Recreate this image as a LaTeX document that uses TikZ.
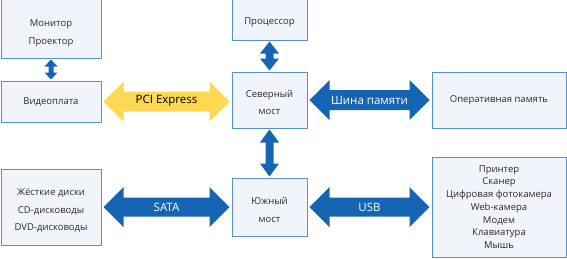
\documentclass[tikz,border=0pt]{standalone}
\usepackage{fontspec}
\setmainfont{Open Sans}
\usetikzlibrary{calc}
\definecolor{boxfill}{HTML}{F1F5FB}
\definecolor{boxline}{HTML}{5592CF}
\definecolor{arrblue}{HTML}{1565B4}
\definecolor{arryel}{HTML}{FDD853}
\definecolor{txt}{HTML}{2B2B2B}
\newcommand\lowered[2]{\raisebox{-#1}[\height][\depth]{\begin{tabular}{@{}c@{}}#2\end{tabular}}}
\newcommand\harrow[6]{%
  \fill[#6] let \p1=(#1), \p2=(#2) in
   (\x1+2pt,\y1) -- (\x1+2pt+#5,\y1+#4) -- (\x1+2pt+#5,\y1+#3) -- (\x2-2pt-#5,\y1+#3) -- (\x2-2pt-#5,\y1+#4) -- (\x2-2pt,\y1)
   -- (\x2-2pt-#5,\y1-#4) -- (\x2-2pt-#5,\y1-#3) -- (\x1+2pt+#5,\y1-#3) -- (\x1+2pt+#5,\y1-#4) -- cycle;}
\newcommand\varrow[6]{%
  \fill[#6] let \p1=(#1), \p2=(#2) in
   (\x1,\y1-1pt) -- (\x1+#4,\y1-1pt-#5) -- (\x1+#3,\y1-1pt-#5) -- (\x1+#3,\y2+1pt+#5) -- (\x1+#4,\y2+1pt+#5) -- (\x1,\y2+1pt)
   -- (\x1-#4,\y2+1pt+#5) -- (\x1-#3,\y2+1pt+#5) -- (\x1-#3,\y1-1pt-#5) -- (\x1-#4,\y1-1pt-#5) -- cycle;}
\begin{document}
\begin{tikzpicture}[x=1pt,y=-1pt,
  box/.style={draw=boxline, fill=boxfill, line width=1pt, align=center, text=txt,
    font=\fontsize{9.5}{17.5}\selectfont, inner sep=0pt},
  lbl/.style={font=\fontsize{11.5}{14}\selectfont, text=white, inner sep=0pt},
  lbldark/.style={lbl, text=black}]
\useasboundingbox (0,0) rectangle (567,258);
\clip (0,0) rectangle (567,258);
\node[box, minimum width=100pt, minimum height=62pt] (mon) at (51,27) {\lowered{5pt}{Монитор\\Проектор}};
\node[box, minimum width=100pt, minimum height=41pt] (vid) at (51,101.5) {Видеоплата};
\node[box, minimum width=75pt, minimum height=44pt] (cpu) at (269.5,18) {\lowered{3pt}{Процессор}};
\node[box, minimum width=75pt, minimum height=56pt] (nb) at (269.5,100) {\lowered{2.5pt}{Северный\\мост}};
\node[box, minimum width=134pt, minimum height=56pt] (ram) at (499,100) {Оперативная память};
\node[box, minimum width=100pt, minimum height=76pt] (hdd) at (51,207) {\lowered{2.5pt}{Жёсткие диски\\CD-дисководы\\DVD-дисководы}};
\node[box, minimum width=75pt, minimum height=58pt] (sb) at (269.5,207) {\lowered{3pt}{Южный\\мост}};
\node[box, minimum width=134pt, minimum height=100pt, font=\fontsize{9.5}{12.7}\selectfont] (usb) at (499,207)
  {Принтер\\Сканер\\Цифровая фотокамера\\Web-камера\\Модем\\Клавиатура\\Мышь};
\varrow{mon.south}{vid.north}{2.5pt}{6.5pt}{7pt}{arrblue}
\varrow{cpu.south}{nb.north}{4pt}{9.5pt}{12pt}{arrblue}
\varrow{nb.south}{sb.north}{4pt}{9.5pt}{13pt}{arrblue}
\harrow{vid.east}{nb.west}{10pt}{20pt}{20pt}{arryel}
\harrow{nb.east}{ram.west}{10pt}{20pt}{20pt}{arrblue}
\harrow{hdd.east |- sb.west}{sb.west}{9.5pt}{20pt}{20pt}{arrblue}
\harrow{sb.east}{usb.west |- sb.east}{9.5pt}{20pt}{20pt}{arrblue}
\node[lbldark] (lpci) at ($(vid.east)!0.5!(nb.west)$) {PCI Express};
\node[lbl] (lmem) at ($(nb.east)!0.5!(ram.west)$) {Шина памяти};
\node[lbl] (lsata) at ($(hdd.east |- sb.west)!0.5!(sb.west)$) {SATA};
\node[lbl] (lusb) at ($(sb.east)!0.5!(usb.west |- sb.east)$) {USB};
\end{tikzpicture}
\end{document}
